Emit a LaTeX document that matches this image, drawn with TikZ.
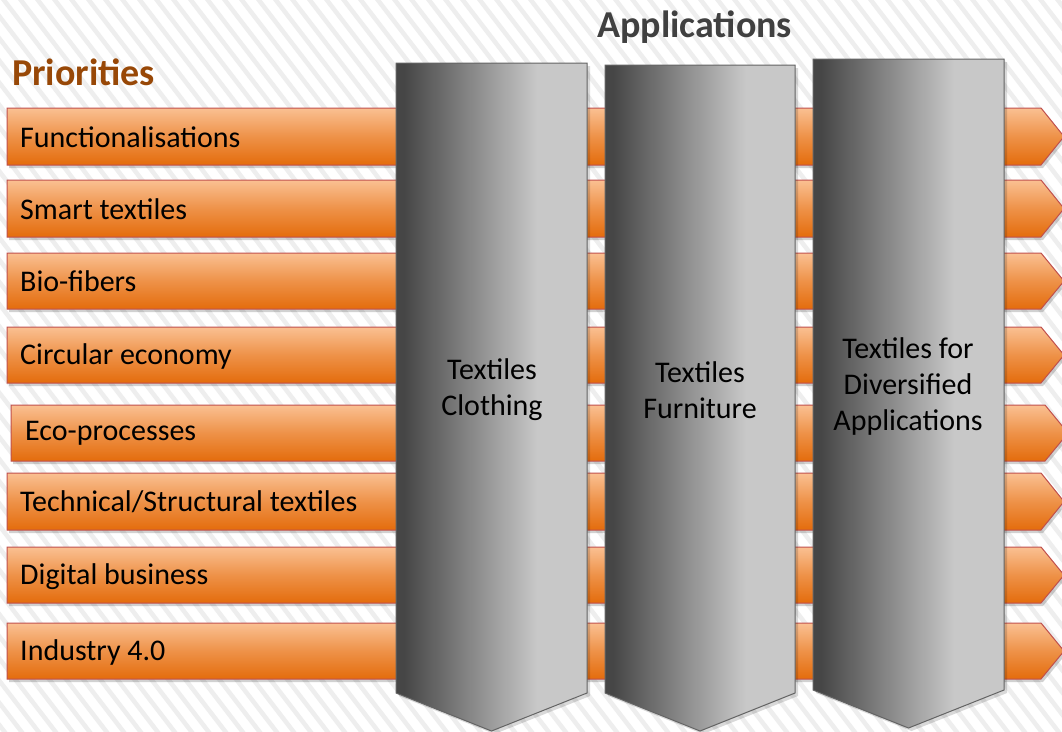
\documentclass[tikz,border=0pt]{standalone}
\usepackage{fontspec}
\setmainfont{Carlito}
\definecolor{barTop}{RGB}{250,192,146}
\definecolor{barBot}{RGB}{228,108,12}
\definecolor{barEdge}{RGB}{192,80,77}
\definecolor{colDark}{RGB}{70,70,70}
\definecolor{colLight}{RGB}{200,200,200}
\definecolor{colEdge}{RGB}{100,100,100}
\definecolor{prioBrown}{RGB}{152,72,7}
\definecolor{appGray}{RGB}{64,64,64}
\definecolor{stripeGray}{RGB}{238,238,238}
\pgfdeclarehorizontalshading{colgrad}{100bp}{color(0bp)=(colDark); color(27bp)=(colDark); color(62bp)=(colLight); color(100bp)=(colLight)}
\tikzset{
  stripe/.style={draw=stripeGray, line width=4.5pt},
  barshape/.style={draw=barEdge, line width=1pt, top color=barTop, bottom color=barBot, middle color=barTop!45!barBot},
  barshadow/.style={fill=black, opacity=0.18},
  colshape/.style={draw=colEdge, line width=1pt, shading=colgrad},
  colshadow/.style={fill=black, opacity=0.15},
  bartext/.style={anchor=west, font=\fontsize{30}{36}\selectfont, text=black, inner sep=0pt},
  coltext/.style={align=center, font=\fontsize{30}{36}\selectfont, text=black, inner sep=0pt},
  heading/.style={font=\bfseries\fontsize{38}{44}\selectfont, inner sep=0pt}
}
\begin{document}
\begin{tikzpicture}[x=1pt,y=-1pt]
\useasboundingbox (0,0) rectangle (1062,731);
\begin{scope}
\clip (0,0) rectangle (1062,731);
\fill[white] (0,0) rectangle (1062,731);
\foreach \i in {-36,...,64}{
  \draw[stripe] (\i*17,-5) -- ++(568,740);
}
% bars
\foreach \t/\b/\dx [count=\k] in {108/165/0,180/237/0,253/309/0,327/383/0,405/461/4,473/530/0,547/603/0,623/679/0}{
  \pgfmathsetmacro{\m}{(\t+\b)/2}
  \fill[barshadow] (7+\dx+2,\t+3) -- (1041+\dx+2,\t+3) -- (1064+\dx+2,\m+3) -- (1041+\dx+2,\b+3) -- (7+\dx+2,\b+3) -- cycle;
  \path[barshape] (7+\dx,\t) -- (1041+\dx,\t) -- (1064+\dx,\m) -- (1041+\dx,\b) -- (7+\dx,\b) -- cycle;
}
% columns
\foreach \xa/\xb/\ty/\sy/\py in {396/587/63/693/731,605/795/65/693/731,813/1004/59/690/728}{
  \pgfmathsetmacro{\xc}{(\xa+\xb)/2}
  \fill[colshadow] (\xa+3,\ty+3) -- (\xb+3,\ty+3) -- (\xb+3,\sy+3) -- (\xc+3,\py+3) -- (\xa+3,\sy+3) -- cycle;
  \path[colshape] (\xa,\ty) -- (\xb,\ty) -- (\xb,\sy) -- (\xc,\py) -- (\xa,\sy) -- cycle;
}
\end{scope}
% headings
\node[heading, text=prioBrown, anchor=base west] (prio) at (12,85) {Priorities};
\node[heading, text=appGray, anchor=base west] (apps) at (597,37) {Applications};
% bar labels
\node[bartext] (p1) at (20,137) {Functionalisations};
\node[bartext] (p2) at (20,209) {Smart textiles};
\node[bartext] (p3) at (20,281) {Bio-fibers};
\node[bartext] (p4) at (20,356) {Circular economy};
\node[bartext] (p5) at (25,433) {Eco-processes};
\node[bartext] (p6) at (20,502) {Technical/Structural textiles};
\node[bartext] (p7) at (20,577) {Digital business};
\node[bartext] (p8) at (20,652) {Industry 4.0};
% column labels
\node[coltext] (c1) at (492,390) {Textiles\\Clothing};
\node[coltext] (c2) at (700,390) {Textiles\\Furniture};
\node[coltext] (c3) at (908,386) {Textiles for\\Diversified\\Applications};
\end{tikzpicture}
\end{document}
